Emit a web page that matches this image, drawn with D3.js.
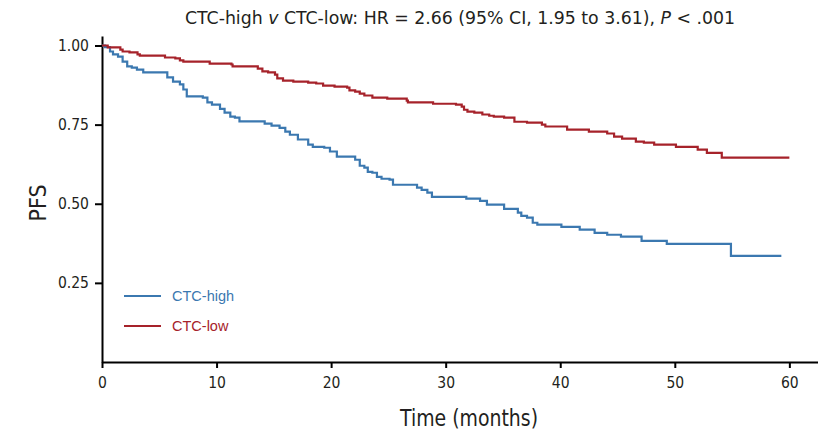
<!DOCTYPE html>
<html>
<head>
<meta charset="utf-8">
<script src="https://cdn.jsdelivr.net/npm/d3@7"></script>
<style>
  html, body { margin: 0; padding: 0; background: #fff; }
  svg { display: block; }
  .narrow { font-family: "DejaVu Sans Condensed", "Liberation Sans", Arial, sans-serif; fill: #231f20; }
  .axis path, .axis line { stroke: #000; stroke-width: 2; }
  .axis text { font-family: "DejaVu Sans Condensed", "Liberation Sans", Arial, sans-serif; font-size: 15.5px; fill: #231f20; }
  .legend text { font-family: "Liberation Sans", Arial, sans-serif; font-size: 14.5px; }
</style>
</head>
<body>
<svg id="chart"></svg>
<script>
const WIDTH = 818;
const HEIGHT = 434;
const MARGIN = { top: 36, right: 0, bottom: 72, left: 102 };

// Kaplan-Meier steps: [months, PFS]
const ctcHigh = [
  [0, 1], [0.26, 0.995], [0.7, 0.981], [0.96, 0.972], [1.4, 0.965], [1.8, 0.949],
  [2.2, 0.934], [2.6, 0.93], [3.05, 0.924], [3.6, 0.915], [5.7, 0.899], [6.2, 0.886],
  [6.8, 0.877], [7.1, 0.861], [7.4, 0.839], [8.8, 0.835], [9.2, 0.82], [9.6, 0.813],
  [10.3, 0.8], [10.7, 0.788], [11.2, 0.775], [11.6, 0.772], [12.0, 0.76], [14.2, 0.753],
  [14.8, 0.747], [15.5, 0.74], [16.0, 0.728], [16.4, 0.718], [17.1, 0.703], [18.0, 0.687],
  [18.4, 0.68], [19.4, 0.677], [19.9, 0.665], [20.5, 0.649], [22.1, 0.639], [22.5, 0.62],
  [22.9, 0.614], [23.2, 0.601], [23.6, 0.598], [24.0, 0.585], [24.4, 0.579], [25.1, 0.576],
  [25.4, 0.56], [27.5, 0.551], [27.9, 0.544], [28.4, 0.535], [28.8, 0.522], [31.8, 0.516],
  [33.0, 0.509], [33.6, 0.497], [35.1, 0.484], [36.3, 0.472], [36.6, 0.462], [37.1, 0.456],
  [37.6, 0.44], [38.0, 0.434], [40.1, 0.427], [41.7, 0.418], [43.0, 0.408], [44.1, 0.402],
  [45.3, 0.396], [47.1, 0.383], [49.3, 0.373], [54.9, 0.335], [59.3, 0.335]
];

const ctcLow = [
  [0, 1], [0.5, 0.994], [1.6, 0.987], [1.8, 0.981], [2.4, 0.978], [3.1, 0.972],
  [3.3, 0.968], [5.5, 0.962], [6.4, 0.959], [6.8, 0.953], [7.1, 0.949], [9.4, 0.943],
  [11.3, 0.94], [11.4, 0.934], [13.6, 0.927], [14.0, 0.918], [14.5, 0.915], [15.1, 0.908],
  [15.3, 0.896], [15.8, 0.889], [16.7, 0.886], [18.0, 0.883], [18.7, 0.88], [19.3, 0.873],
  [20.3, 0.87], [21.4, 0.867], [21.6, 0.858], [22.1, 0.854], [22.5, 0.848], [22.9, 0.842],
  [23.6, 0.835], [24.9, 0.832], [26.6, 0.826], [26.7, 0.82], [28.9, 0.816], [30.9, 0.813],
  [31.4, 0.807], [31.6, 0.797], [31.9, 0.791], [32.5, 0.788], [33.2, 0.782], [33.8, 0.778],
  [34.2, 0.775], [35.1, 0.772], [36.0, 0.759], [37.1, 0.756], [38.4, 0.75], [38.7, 0.744],
  [40.6, 0.734], [42.5, 0.728], [44.1, 0.722], [44.7, 0.712], [45.4, 0.706], [46.6, 0.696],
  [47.3, 0.693], [48.2, 0.687], [50.1, 0.68], [52.0, 0.671], [52.8, 0.661], [54.1, 0.646],
  [60, 0.646]
];

const groups = ['CTC-high', 'CTC-low'];
const groupColors = ['#3b78b0', '#a6222a'];
const xTicks = [0, 10, 20, 30, 40, 50, 60];
const yTicks = [0.25, 0.5, 0.75, 1.0];

const width = WIDTH - MARGIN.left - MARGIN.right;
const height = HEIGHT - MARGIN.top - MARGIN.bottom;

const $svg = d3.select('#chart').attr('width', WIDTH).attr('height', HEIGHT);
const $g = $svg.append('g').attr('transform', `translate(${MARGIN.left},${MARGIN.top})`);

const scaleX = d3.scaleLinear().domain([0, 62.5]).range([0, width]);
const scaleY = d3.scaleLinear().domain([0, 1.03]).range([height, 0]);

// AXES
$g.append('g')
  .attr('class', 'axis axis--x')
  .attr('transform', `translate(0,${height})`)
  .call(d3.axisBottom(scaleX).tickValues(xTicks).tickSize(6).tickSizeOuter(0).tickPadding(9));

$g.append('g')
  .attr('class', 'axis axis--y')
  .call(d3.axisLeft(scaleY).tickValues(yTicks).tickFormat(d3.format('.2f')).tickSize(7).tickSizeOuter(0).tickPadding(6));

$g.selectAll('.axis--y text').attr('dy', null).attr('dominant-baseline', 'central');
$g.selectAll('.axis--x text').attr('dy', '0.7em');

// CURVES
const line = d3.line()
  .x(d => scaleX(d[0]))
  .y(d => scaleY(d[1]))
  .curve(d3.curveStepAfter);

[ctcHigh, ctcLow].forEach((data, i) => {
  $g.append('path')
    .datum(data)
    .attr('fill', 'none')
    .attr('stroke', groupColors[i])
    .attr('stroke-width', 2.2)
    .attr('d', line);
});

// LEGEND
const $legend = $svg.append('g').attr('class', 'legend');
groups.forEach((name, i) => {
  const y = 296 + i * 30;
  $legend.append('line')
    .attr('x1', 124).attr('x2', 161).attr('y1', y).attr('y2', y)
    .attr('stroke', groupColors[i]).attr('stroke-width', 2);
  $legend.append('text')
    .attr('x', 172).attr('y', y)
    .attr('dominant-baseline', 'central')
    .attr('fill', groupColors[i])
    .text(name);
});

// TITLE
const $title = $svg.append('text')
  .attr('class', 'narrow')
  .attr('x', 460).attr('y', 24)
  .attr('text-anchor', 'middle')
  .attr('textLength', 550)
  .attr('lengthAdjust', 'spacingAndGlyphs')
  .style('font-size', '18.5px');
$title.append('tspan').text('CTC-high ');
$title.append('tspan').style('font-style', 'italic').text('v');
$title.append('tspan').text(' CTC-low: HR = 2.66 (95% CI, 1.95 to 3.61), ');
$title.append('tspan').style('font-style', 'italic').text('P');
$title.append('tspan').text(' < .001');

// AXIS LABELS
$svg.append('text')
  .attr('class', 'narrow')
  .attr('x', 469).attr('y', 426)
  .attr('text-anchor', 'middle')
  .attr('textLength', 138)
  .attr('lengthAdjust', 'spacingAndGlyphs')
  .style('font-size', '23px')
  .text('Time (months)');

$svg.append('text')
  .attr('class', 'narrow')
  .attr('transform', 'translate(46,203) rotate(-90)')
  .attr('text-anchor', 'middle')
  .style('font-size', '23px')
  .text('PFS');
</script>
</body>
</html>
